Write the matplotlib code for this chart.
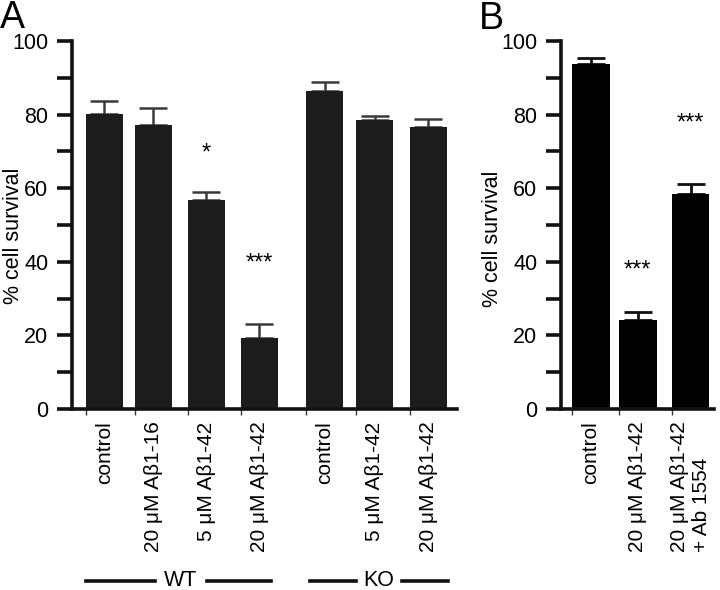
import matplotlib
matplotlib.use("Agg")
import matplotlib.pyplot as plt
from matplotlib.lines import Line2D

plt.rcParams['font.family'] = ['Liberation Sans', 'DejaVu Sans']

# ---- data ----
cats_a = ["control", "20 μM Aβ1-16", "5 μM Aβ1-42", "20 μM Aβ1-42",
          "control", "5 μM Aβ1-42", "20 μM Aβ1-42"]
vals_a = [80.2, 77.3, 56.8, 19.2, 86.5, 78.4, 76.5]
err_a = [3.6, 4.4, 2.1, 4.0, 2.3, 1.3, 2.2]
sig_a = ["", "", "*", "***", "", "", ""]
sig_a_y = [0, 0, 69.5, 39.5, 0, 0, 0]
groups_a = ["WT", "KO"]

cats_b = ["control", "20 μM Aβ1-42", "20 μM Aβ1-42\n+ Ab 1554"]
vals_b = [93.7, 24.3, 58.4]
err_b = [1.8, 2.1, 2.8]
sig_b = ["", "***", "***"]
sig_b_y = [0, 37.5, 77.5]

yticks = [0, 20, 40, 60, 80, 100]
ylab = "% cell survival"

# ---- layout ----
pos_a = [0, 0.95, 1.97, 3.0, 4.27, 5.24, 6.28]
pos_b = [0, 0.93, 1.98]

fig = plt.figure(figsize=(7.2, 5.9), dpi=100)
axA = fig.add_axes([0.100, 0.3068, 0.535, 0.6237])
axB = fig.add_axes([0.779, 0.3068, 0.213, 0.6237])


def style(ax, pos, width, xlim, labx, laby):
    ax.set_ylim(0, 100)
    ax.set_xlim(*xlim)
    for s in ["top", "right"]:
        ax.spines[s].set_visible(False)
    for s in ["left", "bottom"]:
        ax.spines[s].set_linewidth(2.6)
        ax.spines[s].set_color("#111111")
    ax.set_yticks(yticks)
    ax.set_yticks(range(10, 100, 20), minor=True)
    ax.tick_params(axis="y", which="both", length=11, width=2.6,
                   direction="out", labelsize=15.5, pad=6, color="#111111")
    ax.set_xticks([p - width / 2 for p in pos], minor=True)
    ax.tick_params(axis="x", which="minor", length=4, width=1.0, color="#333333")
    ax.set_xticks(pos)
    ax.tick_params(axis="x", which="major", length=0, pad=9)
    ax.text(labx, laby, ylab, transform=ax.transAxes, rotation=90,
            ha="center", va="center", fontsize=15.5)


wA = 0.72
axA.bar(pos_a, vals_a, width=wA, color="#1c1c1c", zorder=2)
axA.errorbar(pos_a, vals_a, yerr=[[0] * len(err_a), err_a], fmt="none",
             ecolor="#3a3a3a", elinewidth=1.8, capsize=10, capthick=1.8, zorder=1)
style(axA, pos_a, wA, (-0.63, 6.84), -0.152, 0.47)
axA.set_xticklabels(cats_a, rotation=90, fontsize=15, va="top", ha="center")
for p, s, y in zip(pos_a, sig_a, sig_a_y):
    if s:
        axA.text(p, y, s, ha="center", va="center", fontsize=17)

wB = 0.75
axB.bar(pos_b, vals_b, width=wB, color="#000000", zorder=2)
axB.errorbar(pos_b, vals_b, yerr=[[0] * len(err_b), err_b], fmt="none",
             ecolor="#111111", elinewidth=2.0, capsize=10, capthick=2.0, zorder=1)
style(axB, pos_b, wB, (-0.6, 2.45), -0.444, 0.462)
axB.set_xticklabels(cats_b, rotation=90, fontsize=15, va="top", ha="center",
                    multialignment="left")
for p, s, y in zip(pos_b, sig_b, sig_b_y):
    if s:
        axB.text(p, y, s, ha="center", va="center", fontsize=17)

# group lines (figure pixel coordinates)
W, H = 720, 590
def px(x, y):
    return x / W, 1 - y / H

ygrp = 580.5
for (x0, x1) in [(86, 155), (207, 271), (310, 356), (402, 448)]:
    fig.add_artist(Line2D([x0 / W, x1 / W], [1 - ygrp / H] * 2,
                          transform=fig.transFigure, color="#111111", lw=2.6))
fig.text(*px(181, ygrp), groups_a[0], ha="center", va="center", fontsize=15.5)
fig.text(*px(379, ygrp), groups_a[1], ha="center", va="center", fontsize=15.5)

fig.text(*px(0, 0), "A", ha="left", va="top", fontsize=27)
fig.text(*px(479, 1), "B", ha="left", va="top", fontsize=27)

fig.savefig("out.png", dpi=100, facecolor="white")
